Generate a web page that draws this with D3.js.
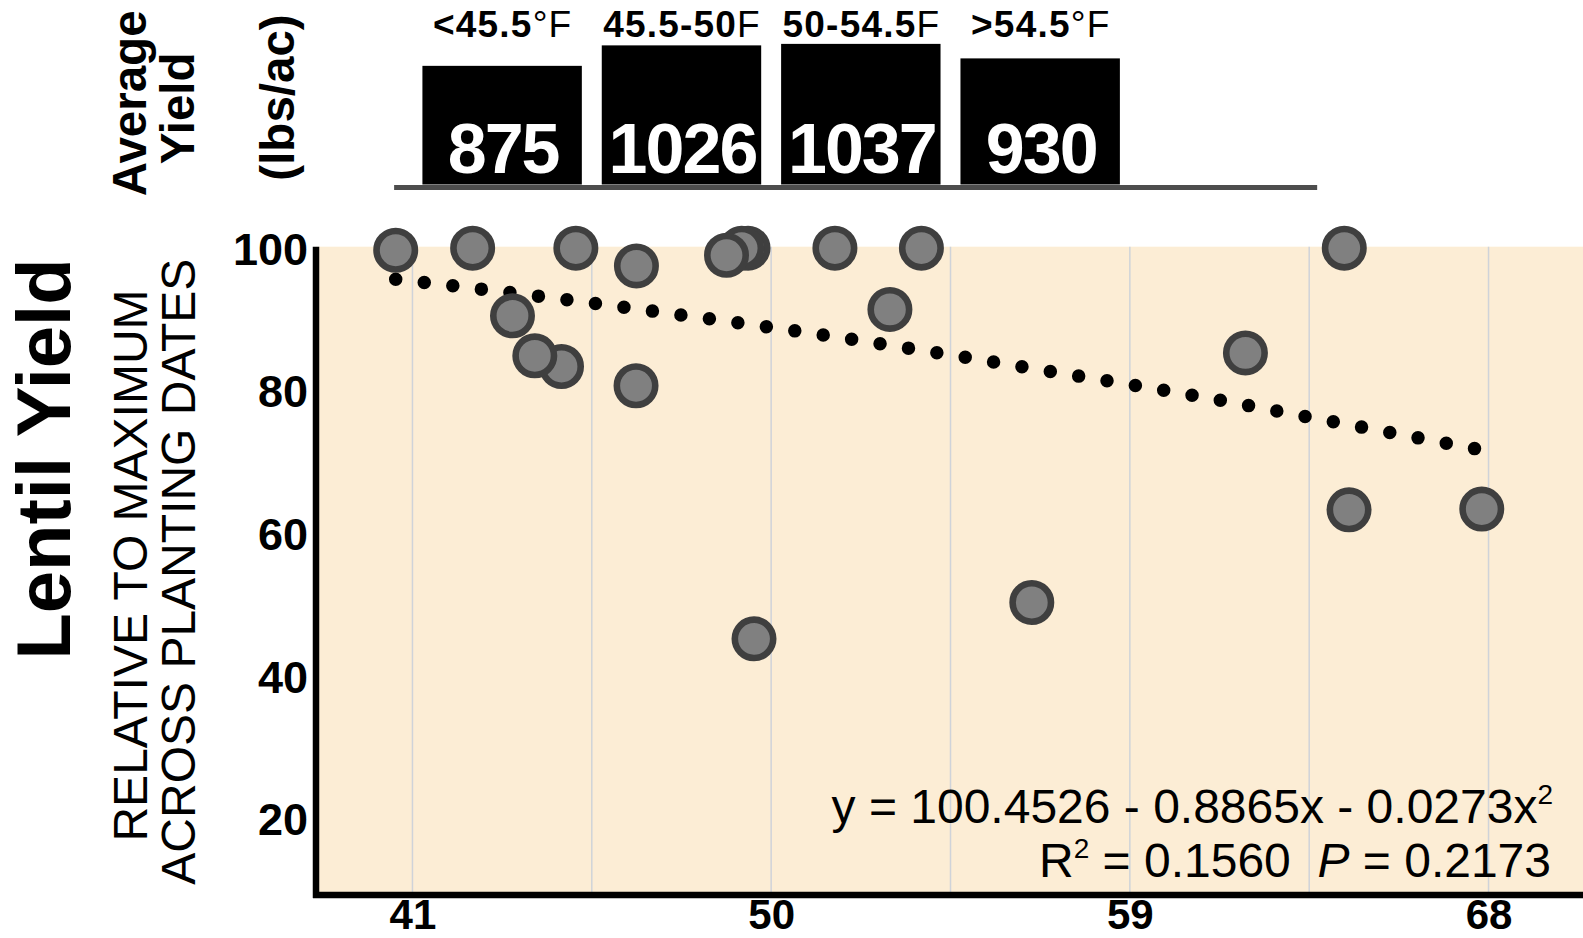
<!DOCTYPE html>
<html>
<head>
<meta charset="utf-8">
<script src="https://cdn.jsdelivr.net/npm/d3@7"></script>
<style>
  html, body { margin: 0; padding: 0; background: #fff; }
  svg { display: block; font-family: "Liberation Sans", Arial, Helvetica, sans-serif; }
  text { white-space: pre; }
</style>
</head>
<body>
<svg id="chart" width="1583" height="938"></svg>
<script>
// Soil temperature bins (°F) with average lentil yield (lbs/ac)
const binBold = ["<45.5", "45.5-50", "50-54.5", ">54.5"];
const binUnit = ["°F", "F", "F", "°F"];
const binCenter = [43.25, 47.75, 52.25, 56.75];
const binYield = [875, 1026, 1037, 930];
const binWidth = 4;

// Relative lentil yield (% of max across planting dates) vs soil temperature (°F)
const soilTemp = [67.83, 64.50, 64.38, 61.90, 56.54, 53.77, 52.98, 51.60, 49.57,
                  49.42, 49.26, 48.88, 46.62, 46.61, 45.10, 44.74, 44.07, 43.51, 42.51, 40.58];
const relYield = [63.4, 63.3, 100.0, 85.3, 50.3, 100.0, 91.4, 100.0, 45.2,
                  100.0, 100.0, 99.0, 97.5, 80.7, 100.0, 83.4, 84.9, 90.5, 100.0, 99.7];

// Fitted quadratic trend, sampled along the curve
const fitTemp = [40.58, 43.47, 46.37, 49.97, 53.53, 57.09, 60.62, 64.13, 67.66];
const fitYield = [95.63, 93.75, 91.65, 88.9, 85.9, 82.63, 79.31, 75.62, 71.87];

const xTicks = [41, 50, 59, 68];
const gridTemps = [41, 45.5, 50, 54.5, 59, 63.5, 68];
const yTicks = [20, 40, 60, 80, 100];

const svg = d3.select("#chart");

const x = d3.scaleLinear().domain([38.58, 70.37]).range([316, 1583]);
const y = d3.scaleLinear().domain([9.7, 100.2]).range([892, 246.7]);
const yBar = d3.scaleLinear().domain([0, 1000]).range([184.5, 48.9]);

// ---------- top panel: average yield per temperature bin ----------
const binPanel = svg.append("g");

binPanel.selectAll("rect.bin")
  .data(binYield)
  .join("rect")
  .attr("class", "bin")
  .attr("x", (d, i) => x(binCenter[i] - binWidth / 2))
  .attr("width", (d, i) => x(binCenter[i] + binWidth / 2) - x(binCenter[i] - binWidth / 2))
  .attr("y", d => yBar(d))
  .attr("height", d => yBar(0) - yBar(d))
  .attr("fill", "#000");

binPanel.append("line")
  .attr("x1", x(40.54)).attr("x2", x(63.7))
  .attr("y1", 187.5).attr("y2", 187.5)
  .attr("stroke", "#4d4d4d").attr("stroke-width", 5);

binPanel.selectAll("text.val")
  .data(binYield)
  .join("text")
  .attr("class", "val")
  .attr("x", (d, i) => x(binCenter[i]) + 1)
  .attr("y", 172.7)
  .attr("text-anchor", "middle")
  .attr("fill", "#fff")
  .attr("font-weight", "bold")
  .attr("font-size", 70)
  .attr("letter-spacing", -2)
  .text(d => d);

const hdr = binPanel.selectAll("text.hdr")
  .data(binBold)
  .join("text")
  .attr("class", "hdr")
  .attr("x", (d, i) => x(binCenter[i]) + 0.6)
  .attr("y", 36.7)
  .attr("text-anchor", "middle")
  .attr("font-size", 37)
  .attr("letter-spacing", 1.2)
  .attr("fill", "#000");
hdr.append("tspan").attr("font-weight", "bold").text(d => d);
hdr.append("tspan").attr("font-weight", "normal").text((d, i) => binUnit[i]);

// rotated titles
const rotText = (txt, bx, cy, size, weight) =>
  svg.append("text")
    .attr("transform", `translate(${bx},${cy}) rotate(-90)`)
    .attr("text-anchor", "middle")
    .attr("font-size", size)
    .attr("font-weight", weight)
    .attr("fill", "#000")
    .text(txt);

rotText("Average", 145.7, 103.3, 47.5, "bold");
rotText("Yield", 194, 108.3, 47.5, "bold");
rotText("(lbs/ac)", 294, 97.5, 47.5, "bold");

// ---------- main scatter panel ----------
svg.append("rect")
  .attr("x", x.range()[0]).attr("y", y.range()[1])
  .attr("width", x.range()[1] - x.range()[0])
  .attr("height", y.range()[0] - y.range()[1])
  .attr("fill", "#fcedd5");

svg.selectAll("line.grid")
  .data(gridTemps)
  .join("line")
  .attr("class", "grid")
  .attr("x1", d => x(d)).attr("x2", d => x(d))
  .attr("y1", y.range()[1]).attr("y2", y.range()[0])
  .attr("stroke", "#cfd3d9").attr("stroke-width", 1.5);

// dotted trend curve
const fitLine = d3.line()
  .x((d, i) => x(fitTemp[i]))
  .y(d => y(d))
  .curve(d3.curveMonotoneX);

const trend = svg.append("path")
  .datum(fitYield)
  .attr("d", fitLine)
  .attr("fill", "none")
  .attr("stroke", "#000")
  .attr("stroke-width", 13.5)
  .attr("stroke-linecap", "round");
const len = trend.node().getTotalLength();
const nDots = Math.round(len / 28.7);
trend.attr("stroke-dasharray", `0 ${(len - 0.5) / nDots}`);

svg.selectAll("circle.pt")
  .data(relYield)
  .join("circle")
  .attr("class", "pt")
  .attr("cx", (d, i) => x(soilTemp[i]))
  .attr("cy", d => y(d))
  .attr("r", 19.2)
  .attr("fill", "#808080")
  .attr("stroke", "#3f3f3f")
  .attr("stroke-width", 6.6);

// axes
const yAxis = svg.append("g")
  .attr("transform", `translate(${x.range()[0]},0)`)
  .call(d3.axisLeft(y).tickValues(yTicks).tickSize(0).tickPadding(8));
yAxis.select(".domain").remove();
yAxis.selectAll("text")
  .attr("font-family", "Liberation Sans, Arial, sans-serif")
  .attr("font-size", 45).attr("font-weight", "bold").attr("fill", "#000")
  .attr("dy", "0.36em");

const xAxis = svg.append("g")
  .attr("transform", "translate(0,895)")
  .call(d3.axisBottom(x).tickValues(xTicks).tickSize(0).tickPadding(4));
xAxis.select(".domain").remove();
xAxis.selectAll("text")
  .attr("font-family", "Liberation Sans, Arial, sans-serif")
  .attr("font-size", 42).attr("font-weight", "bold").attr("fill", "#000");

svg.append("line")
  .attr("x1", 316).attr("x2", 316)
  .attr("y1", y.range()[1]).attr("y2", 898)
  .attr("stroke", "#000").attr("stroke-width", 6.5);
svg.append("line")
  .attr("x1", 313).attr("x2", 1583)
  .attr("y1", 895).attr("y2", 895)
  .attr("stroke", "#000").attr("stroke-width", 6.5);

// y-axis titles
rotText("Lentil Yield", 70, 459, 76, "bold");
rotText("RELATIVE TO MAXIMUM", 146.7, 565.5, 48, "normal");
rotText("ACROSS PLANTING DATES", 195, 571.7, 48, "normal");

// regression annotation
const eq = svg.append("text")
  .attr("x", 1553).attr("y", 823.3)
  .attr("text-anchor", "end")
  .attr("font-size", 48).attr("fill", "#000");
eq.append("tspan").text("y = 100.4526 - 0.8865x - 0.0273x");
eq.append("tspan").attr("font-size", 28).attr("dy", -19).text("2");

const stat = svg.append("text")
  .attr("x", 1551).attr("y", 877.3)
  .attr("text-anchor", "end")
  .attr("font-size", 48).attr("fill", "#000");
stat.append("tspan").text("R");
stat.append("tspan").attr("font-size", 28).attr("dy", -19).text("2");
stat.append("tspan").attr("dy", 19).text(" = 0.1560  ");
stat.append("tspan").attr("font-style", "italic").text("P");
stat.append("tspan").text(" = 0.2173");
</script>
</body>
</html>
